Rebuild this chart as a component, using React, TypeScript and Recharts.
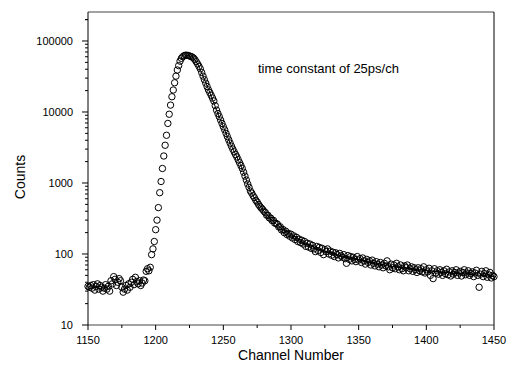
import React from 'react';
import { ScatterChart, Scatter, XAxis, YAxis, ReferenceLine } from 'recharts';

// counts per channel, starting at channel 1150
const startChannel = 1150;
const baseline = [
  35, 34, 36, 33, 37, 31, 35, 38, 32, 36, 34, 30, 33, 37, 32, 35, 30, 42, 38, 48,
  44, 36, 40, 45, 42, 34, 29, 32, 36, 31, 38, 34, 40, 44, 37, 47, 41, 38, 42, 36,
  39, 43, 42, 57, 62, 58, 65,
];
const rise = [
  98, 118, 150, 220, 300, 450, 730, 1050, 1600, 2400, 3400, 4700, 6900, 9300, 12500,
  16400, 20400, 25800, 32000, 39000, 45000, 52000, 57000, 60000, 62000, 63000,
];
const decay = [
  63000, 62500, 61500, 60500, 59500, 57500, 54500, 51000, 47500, 44000, 40500, 36000,
  32000, 28500, 25500, 22800, 20500, 18800, 17200, 15700, 14300, 12300, 10600, 9500,
  8600, 7700, 6900, 6200, 5600, 5000, 4500, 4050, 3650, 3300, 3000, 2750, 2520, 2330,
  2120, 1930, 1760, 1600, 1420, 1250, 1100, 970, 870, 770, 720, 660, 620, 570, 540,
  500, 470, 445, 425, 400,
];
const tail = [
  385, 352, 350, 322, 320, 296, 298, 272, 270, 262, 240, 242, 218, 222, 200, 210, 188,
  196, 178, 190, 168, 180, 160, 172, 150, 162, 145, 156, 138, 150, 128, 142, 125, 138,
  120, 132, 118, 108, 128, 112, 124, 105, 120, 98, 115, 108, 118, 100, 110, 96, 106,
  92, 104, 98, 88, 102, 94, 90, 98, 86, 74, 95, 84, 92, 80, 90, 84, 78, 92, 82, 86,
  76, 88, 80, 72, 84, 76, 80, 70, 82, 74, 68, 78, 72, 66, 76, 70, 64, 74, 68, 80, 66,
  60, 72, 64, 70, 62, 74, 66, 60, 70, 62, 58, 68, 64, 70, 58, 62, 66, 57, 64, 60, 55,
  64, 58, 62, 56, 66, 54, 60, 56, 63, 50, 58, 45, 62, 54, 58, 52, 60, 55, 50, 58, 53,
  61, 51, 56, 49, 58, 52, 55, 60, 50, 54, 57, 49, 55, 60, 51, 54, 58, 50, 53, 56, 48,
  54, 59, 50, 34, 52, 57, 48, 53, 58, 47, 51, 55, 46, 50, 48,
];

// fitted curve through the decay
const fitChannels = [
  1223, 1226, 1230, 1235, 1240, 1245, 1250, 1255, 1260, 1265, 1270, 1275, 1280, 1290,
  1300, 1310, 1320, 1330, 1340, 1350, 1360, 1370, 1380, 1390, 1400, 1410, 1420, 1430,
  1440, 1450,
];
const fitCounts = [
  63000, 60500, 51000, 32000, 18800, 10600, 6200, 3650, 2330, 1420, 770, 540, 400, 255,
  180, 141, 118, 102, 91, 83, 76, 69, 65, 61, 58, 56, 54, 52, 50, 48,
];

const xTicks = [1150, 1175, 1200, 1225, 1250, 1275, 1300, 1325, 1350, 1375, 1400, 1425, 1450];
const yMajor = [10, 100, 1000, 10000, 100000];
const yTicks: number[] = [];
yMajor.forEach((m) => {
  for (let k = 1; k <= 9; k++) {
    const v = m * k;
    if (v <= 256000) yTicks.push(v);
  }
});
yTicks.push(200000);

const points = [...baseline, ...rise, ...decay, ...tail].map((c, i) => ({ x: startChannel + i, y: c }));
const fit = fitChannels.map((x, i) => ({ x, y: fitCounts[i] }));

const font = '"Liberation Sans", Arial, sans-serif';

const XTick = (props: any) => {
  const { x, y, payload } = props;
  const major = payload.value % 50 === 0;
  return (
    <g>
      <line x1={x} x2={x} y1={y} y2={y + (major ? 5 : 3)} stroke="#000" />
      {major && (
        <text x={x} y={y + 19} textAnchor="middle" fontSize={11} fontFamily={font} fill="#000">
          {payload.value}
        </text>
      )}
    </g>
  );
};

const YTick = (props: any) => {
  const { x, y, payload } = props;
  const major = yMajor.includes(payload.value);
  return (
    <g>
      <line x1={x - (major ? 6 : 3)} x2={x} y1={y} y2={y} stroke="#000" />
      {major && (
        <text x={x - 15} y={y + 4} textAnchor="end" fontSize={11} fontFamily={font} fill="#000">
          {payload.value}
        </text>
      )}
    </g>
  );
};

const Ring = (props: any) => (
  <circle cx={props.cx} cy={props.cy} r={3.2} fill="none" stroke="#000" strokeWidth={1} />
);

export default function App() {
  return (
    <div style={{ position: 'absolute', left: 0, top: 0, width: 507, height: 369, background: '#fff' }}>
      <ScatterChart width={507} height={369} margin={{ top: 12, right: 13, bottom: 0, left: 0 }}>
        <XAxis
          dataKey="x"
          type="number"
          domain={[1150, 1450]}
          ticks={xTicks}
          interval={0}
          height={44}
          tickSize={0}
          tickMargin={0}
          tick={<XTick />}
          axisLine={{ stroke: '#444' }}
          label={{
            content: () => (
              <text x={291} y={360} textAnchor="middle" fontSize={14} fontFamily={font} fill="#000">
                Channel Number
              </text>
            ),
          }}
        />
        <YAxis
          dataKey="y"
          type="number"
          scale="log"
          domain={[10, 256000]}
          allowDataOverflow
          ticks={yTicks}
          interval={0}
          width={88}
          tickSize={0}
          tickMargin={0}
          tick={<YTick />}
          axisLine={{ stroke: '#000' }}
          label={{
            content: () => (
              <text
                x={25}
                y={177}
                transform="rotate(-90 25 177)"
                textAnchor="middle"
                fontSize={14}
                fontFamily={font}
                fill="#000"
              >
                Counts
              </text>
            ),
          }}
        />
        <ReferenceLine y={256000} stroke="#444" ifOverflow="extendDomain" />
        <ReferenceLine x={1450} stroke="#000" />
        <Scatter data={fit} line={{ stroke: '#000', strokeWidth: 1 }} lineJointType="monotoneX" shape={() => <g />} isAnimationActive={false} />
        <Scatter data={points} shape={<Ring />} isAnimationActive={false} />
      </ScatterChart>
      <div
        style={{
          position: 'absolute',
          left: 258,
          top: 61,
          fontFamily: font,
          fontSize: 13,
          color: '#000',
          whiteSpace: 'nowrap',
        }}
      >
        time constant of 25ps/ch
      </div>
    </div>
  );
}
